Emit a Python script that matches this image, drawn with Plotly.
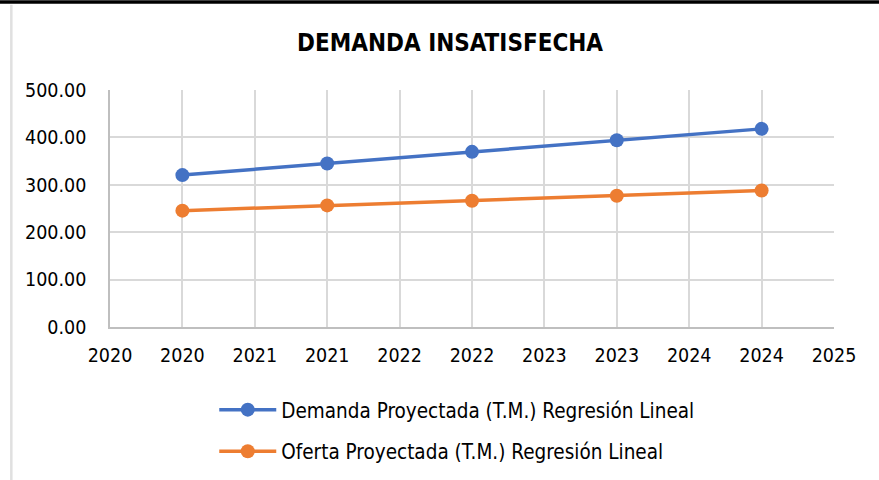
import plotly.graph_objects as go

years = [2020, 2021, 2022, 2023, 2024]
demanda = [320.5, 345.0, 369.5, 394.0, 418.0]
oferta = [245.5, 256.5, 266.5, 277.0, 288.0]
tick_vals = [2019.5, 2020, 2020.5, 2021, 2021.5, 2022, 2022.5, 2023, 2023.5, 2024, 2024.5]
tick_text = ["2020", "2020", "2021", "2021", "2022", "2022", "2023", "2023", "2024", "2024", "2025"]
y_ticks = [0, 100, 200, 300, 400, 500]

FONT = "DejaVu Sans Condensed, sans-serif"

fig = go.Figure()
fig.add_trace(go.Scatter(
    x=years, y=demanda, mode="lines+markers",
    name="Demanda Proyectada (T.M.) Regresión Lineal",
    line=dict(color="#4472C4", width=3.5),
    marker=dict(size=14, color="#4472C4"),
    legendgroup="a",
))
fig.add_trace(go.Scatter(
    x=years, y=oferta, mode="lines+markers",
    name="Oferta Proyectada (T.M.) Regresión Lineal",
    line=dict(color="#ED7D31", width=3.5),
    marker=dict(size=14, color="#ED7D31"),
    legendgroup="b",
))

fig.update_layout(
    width=879, height=480,
    margin=dict(l=110, r=45, t=90, b=153, autoexpand=False),
    paper_bgcolor="white", plot_bgcolor="white",
    font=dict(family=FONT, size=19.5, color="#000000"),
    title=dict(text="<b>DEMANDA INSATISFECHA</b>", x=0.512, xanchor="center",
               y=0.912, yanchor="middle", font=dict(size=24, family=FONT, color="#000000")),
    showlegend=True,
    legend=dict(orientation="v", x=0.144, xanchor="left", y=-0.265, yanchor="top",
                font=dict(size=20.5, family=FONT), itemwidth=57, tracegroupgap=12,
                traceorder="grouped"),
    xaxis=dict(range=[2019.5, 2024.5], tickmode="array", tickvals=tick_vals, ticktext=tick_text,
               showgrid=True, gridcolor="#D9D9D9", gridwidth=1.5,
               showline=True, linecolor="#BFBFBF", linewidth=1.5, zeroline=False,
               ticks="", ticklen=0, ticklabelstandoff=10),
    yaxis=dict(range=[0, 500], tickmode="array", tickvals=y_ticks,
               tickformat=".2f", showgrid=True, gridcolor="#D9D9D9", gridwidth=1.5,
               showline=True, linecolor="#BFBFBF", linewidth=1.5, zeroline=False,
               ticks="", ticklen=0, ticklabelstandoff=18),
    shapes=[
        dict(type="line", xref="paper", yref="paper", x0=-0.2, x1=1.1, y0=1.371, y1=1.371,
             line=dict(color="#000000", width=3.5)),
        dict(type="line", xref="paper", yref="paper", x0=-0.1363, x1=-0.1363, y0=-0.7, y1=1.36,
             line=dict(color="#E0E0E0", width=2.5)),
    ],
)

fig.write_html("out.html", config={"displayModeBar": False},
               post_script="document.body.style.margin='0';")
